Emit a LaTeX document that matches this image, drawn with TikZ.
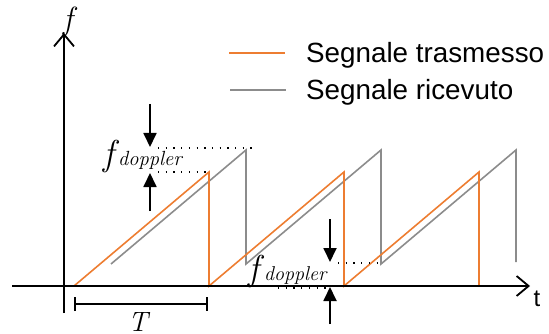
\documentclass[tikz,border=0pt]{standalone}
\usepackage{fontspec}
\setsansfont{Liberation Sans}
\usetikzlibrary{arrows.meta}
\definecolor{txorange}{RGB}{237,125,49}
\definecolor{rxgray}{RGB}{140,140,140}
\begin{document}
\begin{tikzpicture}[x=1pt,y=-1pt,
  axisline/.style={line width=1.8pt,-{Straight Barb[length=12pt,width=20pt,line width=1.8pt]}},
  sigtx/.style={txorange,line width=1.6pt,line join=miter},
  sigrx/.style={rxgray,line width=1.6pt,line join=miter},
  dotline/.style={line width=1.3pt,dash pattern=on 1.3pt off 6.4pt},
  dopparrow/.style={line width=1.8pt,-{Triangle[length=14pt,width=13pt]}},
  legtext/.style={font=\sffamily\fontsize{27.8}{30}\selectfont,anchor=base west,inner sep=0pt},
  dopplabel/.style={anchor=base west,inner sep=0pt},
  tbar/.style={line width=1.8pt,{Bar[width=14pt,line width=1.8pt]}-{Bar[width=14pt,line width=1.8pt]}}
]
\useasboundingbox (0,0) rectangle (549,334);

% signals
\draw[sigrx] (111,264) -- (246,150) -- (246,264) -- (381,150) -- (381,264) -- (516,150) -- (516,262);
\draw[sigtx] (74,286) -- (209,172) -- (209,286) -- (344,172) -- (344,286) -- (479,172) -- (479,286);

% axes
\coordinate (xs) at (12,286);
\coordinate (xe) at (530,286);
\coordinate (ys) at (64,313);
\coordinate (ye) at (64,33);
\draw[axisline] (xs) -- (xe);
\draw[axisline] (ys) -- (ye);
\node[inner sep=0pt] (flab) at (68,22) {\fontsize{32}{32}\selectfont\itshape f};
\node[inner sep=0pt] (tlab) at (537,299) {\sffamily\fontsize{24}{24}\selectfont t};

% legend
\coordinate (lo1) at (229,53); \coordinate (lo2) at (285,53);
\coordinate (lg1) at (230,90); \coordinate (lg2) at (286,90);
\draw[sigtx] (lo1) -- (lo2);
\draw[sigrx] (lg1) -- (lg2);
\node[legtext] (ltx) at (306,63) {Segnale trasmesso};
\node[legtext] (lrx) at (306,100) {Segnale ricevuto};

% doppler 1
\coordinate (d1a) at (158,148); \coordinate (d1b) at (255,148);
\coordinate (d2a) at (158,172); \coordinate (d2b) at (209,172);
\draw[dotline] (d1a) -- (d1b);
\draw[dotline] (d2a) -- (d2b);
\coordinate (a1s) at (150,104); \coordinate (a1e) at (150,147);
\coordinate (a2s) at (150,211); \coordinate (a2e) at (150,173);
\draw[dopparrow] (a1s) -- (a1e);
\draw[dopparrow] (a2s) -- (a2e);
\node[dopplabel] (fd1) at (103,166) {\itshape\fontsize{36}{36}\selectfont f\kern4pt{\fontsize{20.5}{20}\selectfont doppler}};

% doppler 2
\coordinate (d3a) at (338,263); \coordinate (d3b) at (381,263);
\coordinate (d4a) at (278,288); \coordinate (d4b) at (330,288);
\draw[dotline] (d3a) -- (d3b);
\draw[dotline] (d4a) -- (d4b);
\coordinate (a3s) at (330,219); \coordinate (a3e) at (330,262);
\coordinate (a4s) at (330,324); \coordinate (a4e) at (330,287);
\draw[dopparrow] (a3s) -- (a3e);
\draw[dopparrow] (a4s) -- (a4e);
\node[dopplabel] (fd2) at (248,280) {\itshape\fontsize{36}{36}\selectfont f\kern5pt{\fontsize{20}{20}\selectfont doppler}};

% period T
\coordinate (t1) at (74,304); \coordinate (t2) at (208,304);
\draw[tbar] (t1) -- (t2);
\node[inner sep=0pt] (Tlab) at (138,322) {\fontsize{28}{28}\selectfont\itshape T};
\end{tikzpicture}
\end{document}
